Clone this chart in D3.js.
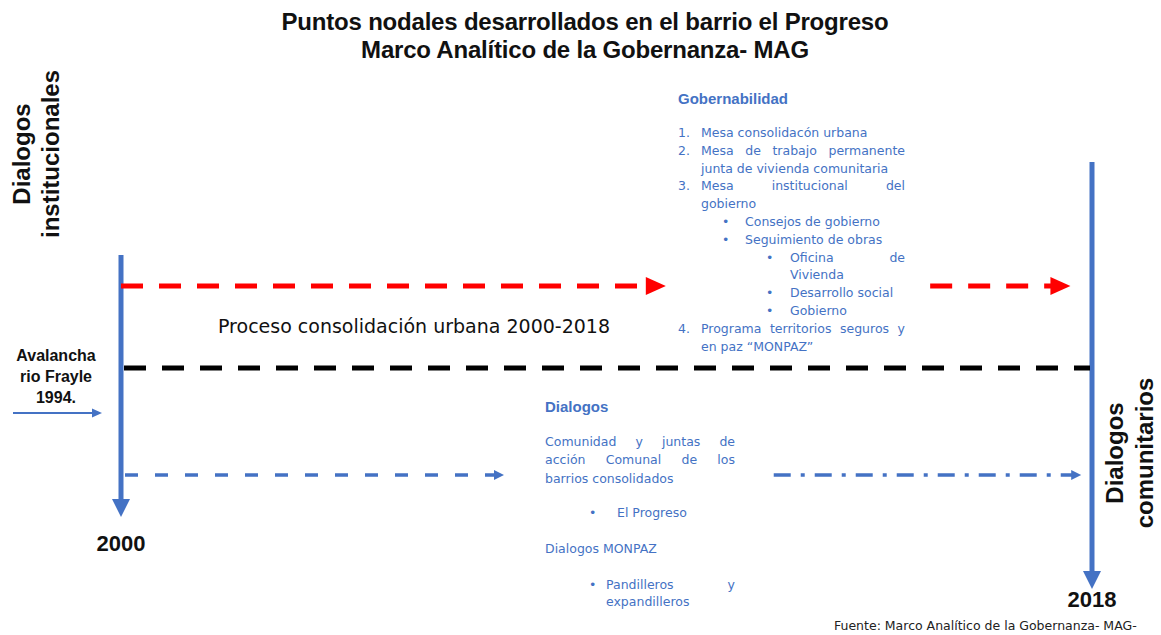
<!DOCTYPE html>
<html><head><meta charset="utf-8">
<script src="https://cdn.jsdelivr.net/npm/d3@7"></script>
<style>
html,body{margin:0;padding:0;background:#fff;}
svg{display:block;}
</style></head>
<body>
<svg id="c" width="1161" height="635"></svg>
<script>
// ---- data ----
const timelineYears = [2000, 2018];
const yearLabels = ["2000", "2018"];
const redSegments = [[2000, 2010.1], [2015.0, 2017.6]];
const blackSegments = [[2000, 2018]];
const blueSegments = [[2000, 2007.1], [2012.1, 2017.8]];
const titleLines = ["Puntos nodales desarrollados en el barrio el Progreso", "Marco Analítico de la Gobernanza- MAG"];
const leftAxisLabel = ["Dialogos", "institucionales"];
const rightAxisLabel = ["Dialogos", "comunitarios"];
const eventLabel = ["Avalancha", "rio Frayle", "1994."];
const processLabel = "Proceso consolidación urbana 2000-2018";
const sourceLabel = "Fuente: Marco Analítico de la Gobernanza- MAG-";
// [marker, text, indent level, justify]
const gobernabilidad = [
  ["1.", "Mesa consolidacón urbana", 0, false],
  ["2.", "Mesa de trabajo permanente", 0, true],
  ["", "junta de vivienda comunitaria", 0, false],
  ["3.", "Mesa institucional del", 0, true],
  ["", "gobierno", 0, false],
  ["•", "Consejos de gobierno", 1, false],
  ["•", "Seguimiento de obras", 1, false],
  ["•", "Oficina de", 2, true],
  ["", "Vivienda", 2, false],
  ["•", "Desarrollo social", 2, false],
  ["•", "Gobierno", 2, false],
  ["4.", "Programa territorios seguros y", 0, true],
  ["", "en paz “MONPAZ”", 0, false]
];
const dialogos = [
  ["", "Comunidad y juntas de", 0, true, 441],
  ["", "acción Comunal de los", 0, true, 459],
  ["", "barrios consolidados", 0, false, 478],
  ["•", "El Progreso", 1, false, 512],
  ["", "Dialogos MONPAZ", 0, false, 548],
  ["•", "Pandilleros y", 2, true, 584],
  ["", "expandilleros", 2, false, 601]
];

// ---- drawing ----
const svg = d3.select("#c");
const BLUE = "#4472C4";
const x = d3.scaleLinear().domain(timelineYears).range([121, 1092]);
const boldFont = "'Liberation Sans', Arial, sans-serif";
const textFont = "'DejaVu Sans', sans-serif";

// title
svg.selectAll("text.title").data(titleLines).join("text")
  .attr("class", "title")
  .attr("x", 585).attr("y", (d, i) => 30 + i * 28)
  .attr("text-anchor", "middle")
  .attr("font-family", boldFont).attr("font-weight", "bold")
  .attr("font-size", 24).attr("letter-spacing", -0.2)
  .attr("fill", "#111").text(d => d);

function triRight(tipX, y, w, h) { return `M${tipX},${y} L${tipX - w},${y - h / 2} L${tipX - w},${y + h / 2} Z`; }
function triDown(xc, tipY, w, h) { return `M${xc},${tipY} L${xc - w / 2},${tipY - h} L${xc + w / 2},${tipY - h} Z`; }

// vertical timeline arrows
const vlines = [{ yr: 2000, top: 255, tip: 517 }, { yr: 2018, top: 162, tip: 589 }];
vlines.forEach(v => {
  svg.append("line").attr("x1", x(v.yr)).attr("x2", x(v.yr)).attr("y1", v.top).attr("y2", v.tip - 16)
    .attr("stroke", BLUE).attr("stroke-width", 5);
  svg.append("path").attr("d", triDown(x(v.yr), v.tip, 18, 18)).attr("fill", BLUE);
});

// year labels
svg.selectAll("text.year").data(yearLabels).join("text")
  .attr("class", "year")
  .attr("x", d => x(+d)).attr("y", (d, i) => i === 0 ? 551 : 607)
  .attr("text-anchor", "middle").attr("font-family", boldFont).attr("font-weight", "bold")
  .attr("font-size", 22).attr("fill", "#111").text(d => d);

// red dashed arrows
const redY = 286;
redSegments.forEach(s => {
  svg.append("line").attr("x1", x(s[0])).attr("x2", x(s[1]) - 18).attr("y1", redY).attr("y2", redY)
    .attr("stroke", "#FF0000").attr("stroke-width", 5).attr("stroke-dasharray", "22 16");
  svg.append("path").attr("d", triRight(x(s[1]), redY, 20, 18)).attr("fill", "#FF0000");
});

// black dashed line
const blackY = 368;
blackSegments.forEach(s => {
  svg.append("line").attr("x1", x(s[0]) + 3).attr("x2", x(s[1]) - 2).attr("y1", blackY).attr("y2", blackY)
    .attr("stroke", "#000").attr("stroke-width", 5).attr("stroke-dasharray", "22 16");
});

// blue dashed arrows
const blueY = 475;
svg.append("line").attr("x1", x(blueSegments[0][0])).attr("x2", x(blueSegments[0][1]) - 8)
  .attr("y1", blueY).attr("y2", blueY).attr("stroke", BLUE).attr("stroke-width", 3.5)
  .attr("stroke-dasharray", "0 4 13 13");
svg.append("path").attr("d", triRight(x(blueSegments[0][1]), blueY, 10, 10)).attr("fill", BLUE);
svg.append("line").attr("x1", x(blueSegments[1][0])).attr("x2", x(blueSegments[1][1]) - 8)
  .attr("y1", blueY).attr("y2", blueY).attr("stroke", BLUE).attr("stroke-width", 3.5)
  .attr("stroke-dasharray", "17 10 4 10");
svg.append("path").attr("d", triRight(x(blueSegments[1][1]), blueY, 10, 10)).attr("fill", BLUE);

// event arrow (Avalancha)
svg.append("line").attr("x1", 13).attr("x2", 95).attr("y1", 413).attr("y2", 413)
  .attr("stroke", BLUE).attr("stroke-width", 2.2);
svg.append("path").attr("d", triRight(102, 413, 10, 9)).attr("fill", BLUE);
svg.selectAll("text.event").data(eventLabel).join("text")
  .attr("class", "event").attr("x", 56).attr("y", (d, i) => 361 + i * 21)
  .attr("text-anchor", "middle").attr("font-family", boldFont).attr("font-weight", "bold")
  .attr("font-size", 16).attr("fill", "#111").text(d => d);

// rotated axis labels
function rotLabel(lines, cx, cy, gap) {
  const g = svg.append("g").attr("transform", `translate(${cx},${cy}) rotate(-90)`);
  g.selectAll("text").data(lines).join("text")
    .attr("x", 0).attr("y", (d, i) => i * gap)
    .attr("text-anchor", "middle").attr("font-family", boldFont).attr("font-weight", "bold")
    .attr("font-size", 24).attr("fill", "#111").text(d => d);
}
rotLabel(leftAxisLabel, 30, 154, 29);
rotLabel(rightAxisLabel, 1123, 453, 30);

// process label
svg.append("text").attr("x", 218).attr("y", 333).attr("font-family", textFont)
  .attr("font-size", 19).attr("fill", "#111").text(processLabel);

function textLine(xStart, xEnd, y, text, justify, opts) {
  if (!justify) {
    svg.append("text").attr("x", xStart).attr("y", y).attr("font-family", textFont)
      .attr("font-size", opts.size).attr("fill", BLUE).text(text);
    return;
  }
  const words = text.split(" ");
  const nodes = words.map(w => svg.append("text").attr("y", y).attr("font-family", textFont)
    .attr("font-size", opts.size).attr("fill", BLUE).text(w));
  const widths = nodes.map(n => n.node().getComputedTextLength());
  const total = d3.sum(widths);
  const gap = (xEnd - xStart - total) / (words.length - 1);
  let cx = xStart;
  nodes.forEach((n, i) => { n.attr("x", cx); cx += widths[i] + gap; });
}

// Gobernabilidad block
svg.append("text").attr("x", 678).attr("y", 104).attr("font-family", boldFont).attr("font-weight", "bold")
  .attr("font-size", 15).attr("fill", BLUE).text("Gobernabilidad");
const markerX = [678, 722, 766];
const textX = [701, 745, 790];
gobernabilidad.forEach((d, i) => {
  const y = 137 + i * 17.8;
  if (d[0]) svg.append("text").attr("x", markerX[d[2]]).attr("y", y).attr("font-family", textFont)
    .attr("font-size", 12.5).attr("fill", BLUE).text(d[0]);
  textLine(textX[d[2]], 905, y, d[1], d[3], { size: 12.5 });
});

// Dialogos block
svg.append("text").attr("x", 545).attr("y", 412).attr("font-family", boldFont).attr("font-weight", "bold")
  .attr("font-size", 15).attr("fill", BLUE).text("Dialogos");
const dMarkerX = [545, 589, 589];
const dTextX = [545, 617, 606];
dialogos.forEach(d => {
  const y = d[4] + 5;
  if (d[0]) svg.append("text").attr("x", dMarkerX[d[2]]).attr("y", y).attr("font-family", textFont)
    .attr("font-size", 12.5).attr("fill", BLUE).text(d[0]);
  textLine(dTextX[d[2]], 735, y, d[1], d[3], { size: 12.5 });
});

// source
svg.append("text").attr("x", 834).attr("y", 630).attr("font-family", textFont)
  .attr("font-size", 12.5).attr("fill", "#222").text(sourceLabel);
</script>
</body></html>
